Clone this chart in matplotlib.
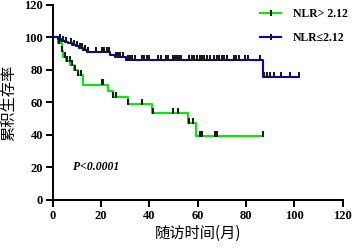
import numpy as np
import matplotlib
matplotlib.use("Agg")
import matplotlib.pyplot as plt
from matplotlib.lines import Line2D

# KM curve, NLR > 2.12 (step times in months, survival % after each drop)
high_t = [0, 2.0, 3.7, 4.3, 5.5, 7.2, 8.8, 10.3, 12.4, 22.9, 24.8, 31.0, 41.2, 56.1, 59.2, 87.0]
high_s = [100, 96.4, 91.5, 88.0, 85.5, 83.0, 80.0, 77.0, 71.0, 67.0, 63.5, 59.0, 53.7, 47.5, 39.5, 39.5]
high_cens = [2.7, 3.9, 5.0, 6.0, 7.0, 8.1, 9.1, 10.5, 11.6, 20.2, 21.0, 25.0, 26.0,
             31.2, 36.8, 41.5, 49.9, 52.0, 56.3, 57.9, 60.8, 61.8, 67.3, 68.0, 87.0]

# KM curve, NLR <= 2.12
low_t = [0, 2.0, 3.5, 5.0, 6.5, 8.0, 9.5, 11.0, 12.5, 14.0, 23.7, 25.8, 30.5, 87.0, 102.0]
low_s = [100, 99.0, 98.0, 97.2, 96.4, 95.5, 94.5, 93.5, 92.5, 91.0, 89.5, 88.0, 86.0, 75.5, 75.5]
low_cens = [2.9, 4.2, 5.6, 7.4, 8.8, 10.1, 11.1, 12.1, 13.2, 14.6,
            17.9, 20.2, 21.2, 22.3, 23.3, 26.0, 26.9, 27.8, 29.2, 31.0, 32.0, 32.9, 34.0,
            36.8, 37.8, 38.9, 39.9, 43.7, 44.8, 46.9, 47.7, 49.8, 50.6, 51.4, 52.3, 53.1,
            56.4, 57.6, 58.5, 59.7, 61.0, 61.8, 62.6, 63.8, 65.1, 66.7, 68.0, 68.8, 70.1,
            70.9, 72.1, 75.0, 75.9, 77.1, 79.6, 80.8, 85.8,
            87.6, 88.7, 89.8, 91.5, 94.5, 98.3, 101.8]

labels = ["NLR> 2.12", "NLR\u22642.12"]
colors = ["#00ee00", "#0000dd"]

x_ticks = [0, 20, 40, 60, 80, 100, 120]
y_ticks = [0, 20, 40, 60, 80, 100, 120]

serif = ["Liberation Serif", "DejaVu Serif"]
cjk = ["Noto Sans CJK SC", "DejaVu Sans"]


def surv_at(times, surv, t):
    idx = np.searchsorted(times, t, side="right") - 1
    return np.asarray(surv)[idx]


fig = plt.figure(figsize=(3.54, 2.49), dpi=100)
ax = fig.add_axes([0.149, 0.197, 0.819, 0.783])

handles = []
for t, s, cens, c, lab in [
    (high_t, high_s, high_cens, colors[0], labels[0]),
    (low_t, low_s, low_cens, colors[1], labels[1]),
]:
    ax.step(t, s, where="post", color=c, lw=1.5, zorder=2)
    ct = np.array(cens)
    ax.plot(ct, surv_at(t, s, ct) + 1.3, ls="none", marker="|", ms=4,
            mew=1.5, color="#1a1a1a", zorder=3)
    handles.append(Line2D([], [], color=c, lw=1.5, marker="|", ms=4,
                          mew=1.5, mec="#1a1a1a", label=lab))

ax.set_xlim(0, 120)
ax.set_ylim(0, 120)
ax.set_xticks(x_ticks)
ax.set_yticks(y_ticks)

for side in ["top", "right"]:
    ax.spines[side].set_visible(False)
for side in ["left", "bottom"]:
    ax.spines[side].set_linewidth(1.4)
ax.tick_params(direction="out", length=5, width=1.4, pad=2)

for lbl in ax.get_xticklabels() + ax.get_yticklabels():
    lbl.set_fontfamily(serif)
    lbl.set_fontweight("bold")
    lbl.set_fontsize(9)

ax.set_xlabel("随访时间(月)", family=cjk, fontsize=11, labelpad=2)
ax.set_ylabel("累积生存率", family=cjk, fontsize=11, labelpad=5)

ax.text(8.4, 20, "P<0.0001", family=serif, fontweight="bold", style="italic",
        fontsize=8.5, va="center", ha="left")

leg = fig.legend(handles=handles, loc="upper left", bbox_to_anchor=(0.705, 1.01),
                 frameon=False, numpoints=1, handlelength=1.75, handletextpad=1.0,
                 labelspacing=1.0, prop={"family": serif, "weight": "bold", "size": 8.5})

fig.savefig("out.png", dpi=100)
